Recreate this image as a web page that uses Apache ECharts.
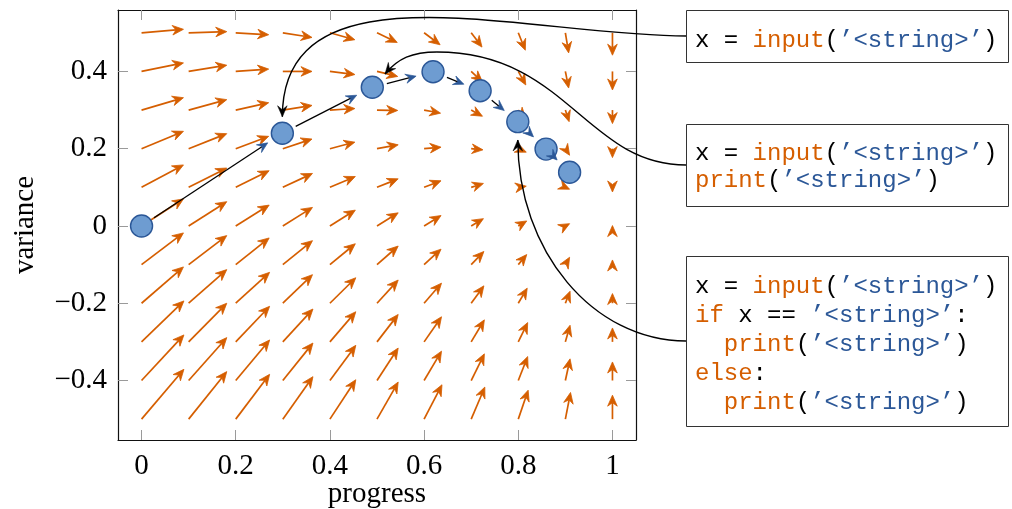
<!DOCTYPE html>
<html><head><meta charset="utf-8">
<script src="https://cdn.jsdelivr.net/npm/echarts@6/dist/echarts.min.js"></script>
<style>html,body{margin:0;padding:0;background:#fff}#c{width:1012px;height:509px}</style>
</head><body><div id="c"></div>
<script>
// ---------------- data ----------------
const gridX = [0, 0.1, 0.2, 0.3, 0.4, 0.5, 0.6, 0.7, 0.8, 0.9, 1];
const gridY = [-0.5, -0.4, -0.3, -0.2, -0.1, 0, 0.1, 0.2, 0.3, 0.4, 0.5];
// arrow x-components (rows follow gridY, columns follow gridX)
const U = [
  [0.090, 0.081, 0.072, 0.064, 0.055, 0.045, 0.038, 0.029, 0.021, 0.011, 0],
  [0.090, 0.081, 0.072, 0.064, 0.055, 0.045, 0.037, 0.028, 0.020, 0.010, 0],
  [0.090, 0.081, 0.072, 0.064, 0.055, 0.045, 0.037, 0.028, 0.020, 0.010, 0],
  [0.089, 0.081, 0.072, 0.063, 0.055, 0.045, 0.037, 0.027, 0.019, 0.010, 0],
  [0.089, 0.081, 0.071, 0.063, 0.054, 0.045, 0.036, 0.027, 0.018, 0.009, 0],
  [0.089, 0.081, 0.071, 0.063, 0.054, 0.045, 0.036, 0.026, 0.018, 0.009, 0],
  [0.089, 0.081, 0.071, 0.063, 0.054, 0.045, 0.036, 0.026, 0.017, 0.009, 0],
  [0.089, 0.081, 0.070, 0.062, 0.053, 0.045, 0.036, 0.025, 0.017, 0.009, 0],
  [0.089, 0.081, 0.070, 0.062, 0.053, 0.044, 0.035, 0.024, 0.016, 0.008, 0],
  [0.089, 0.081, 0.070, 0.062, 0.053, 0.044, 0.035, 0.024, 0.016, 0.007, 0],
  [0.089, 0.081, 0.070, 0.062, 0.053, 0.043, 0.034, 0.023, 0.015, 0.007, 0]
];
// arrow y-components
const V = [
  [0.129, 0.123, 0.116, 0.110, 0.102, 0.096, 0.089, 0.083, 0.075, 0.069, 0.062],
  [0.118, 0.111, 0.105, 0.097, 0.091, 0.084, 0.076, 0.069, 0.062, 0.056, 0.048],
  [0.106, 0.100, 0.092, 0.085, 0.078, 0.071, 0.065, 0.057, 0.050, 0.043, 0.036],
  [0.094, 0.087, 0.080, 0.074, 0.066, 0.060, 0.052, 0.045, 0.039, 0.031, 0.025],
  [0.082, 0.075, 0.069, 0.062, 0.054, 0.048, 0.040, 0.034, 0.026, 0.019, 0.012],
  [0.070, 0.063, 0.054, 0.048, 0.041, 0.034, 0.027, 0.019, 0.013, 0.006, 0.001],
  [0.058, 0.050, 0.043, 0.036, 0.028, 0.022, 0.017, 0.010, 0.003, -0.005, -0.012],
  [0.045, 0.039, 0.032, 0.025, 0.017, 0.010, 0.004, -0.003, -0.009, -0.017, -0.023],
  [0.032, 0.027, 0.019, 0.012, 0.004, -0.001, -0.008, -0.016, -0.022, -0.030, -0.035],
  [0.022, 0.016, 0.006, 0.000, -0.008, -0.013, -0.021, -0.027, -0.035, -0.043, -0.048],
  [0.009, 0.003, -0.005, -0.012, -0.018, -0.025, -0.031, -0.037, -0.045, -0.052, -0.058]
];
const trajX = [0, 0.299, 0.490, 0.619, 0.719, 0.799, 0.859, 0.909];
const trajY = [0, 0.240, 0.359, 0.399, 0.350, 0.270, 0.199, 0.139];
const xTicks = [0, 0.2, 0.4, 0.6, 0.8, 1];
const yTicks = [-0.4, -0.2, 0, 0.2, 0.4];
const xName = 'progress';
const yName = 'variance';
// code snippets: tokens [text, kind]
const snippet1 = [
  [['x = ', 'pl'], ['input', 'kw'], ['(', 'pl'], ['’<string>’', 'str'], [')', 'pl']]
];
const snippet2 = [
  [['x = ', 'pl'], ['input', 'kw'], ['(', 'pl'], ['’<string>’', 'str'], [')', 'pl']],
  [['print', 'kw'], ['(', 'pl'], ['’<string>’', 'str'], [')', 'pl']]
];
const snippet3 = [
  [['x = ', 'pl'], ['input', 'kw'], ['(', 'pl'], ['’<string>’', 'str'], [')', 'pl']],
  [['if', 'kw'], [' x == ', 'pl'], ['’<string>’', 'str'], [':', 'pl']],
  [['  ', 'pl'], ['print', 'kw'], ['(', 'pl'], ['’<string>’', 'str'], [')', 'pl']],
  [['else', 'kw'], [':', 'pl']],
  [['  ', 'pl'], ['print', 'kw'], ['(', 'pl'], ['’<string>’', 'str'], [')', 'pl']]
];
const annotTargets = [1, 2, 5]; // trajectory point each snippet box points to

// ---------------- styling / layout ----------------
const ORANGE = '#D55E00';
const BLUE_FILL = '#6E9CD1';
const BLUE_DARK = '#2B5797';
const SERIF = 'Liberation Serif';
const MONO = 'Liberation Mono';
const FS_MONO = 24;
const boxes = [
  {x: 686, y: 10, w: 322, h: 52, lines: snippet1, first: 30.7, step: 29},
  {x: 686, y: 124, w: 322, h: 82, lines: snippet2, first: 29.3, step: 27.4},
  {x: 686, y: 256, w: 322, h: 170, lines: snippet3, first: 30.7, step: 28.9}
];

function head(tip, ux, uy, L, W, N) {
  const px = -uy, py = ux;
  return [
    [tip[0], tip[1]],
    [tip[0] - L * ux + W * px, tip[1] - L * uy + W * py],
    [tip[0] - N * ux, tip[1] - N * uy],
    [tip[0] - L * ux - W * px, tip[1] - L * uy - W * py]
  ];
}

const quiverData = [];
gridY.forEach((y, i) => gridX.forEach((x, j) => quiverData.push([x, y, U[i][j], V[i][j]])));
const trajPairs = [];
for (let i = 0; i < trajX.length - 1; i++) trajPairs.push([trajX[i], trajY[i], trajX[i + 1], trajY[i + 1]]);
const annotData = annotTargets.map((k, b) => [trajX[k], trajY[k], b]);

function fmt(v) {
  const s = String(Math.abs(Math.round(v * 10) / 10));
  return v < -1e-9 ? '\u2212' + s : s;
}

const tickCommon = {show: true, inside: true, length: 10, lineStyle: {color: '#9a9a9a', width: 1}};
const lineCommon = {show: true, onZero: false, lineStyle: {color: '#111', width: 1.2}};
const labelCommon = {fontFamily: SERIF, fontSize: 29, color: '#000'};

const chart = echarts.init(document.getElementById('c'), null, {renderer: 'canvas'});

const graphics = [];
boxes.forEach(b => {
  graphics.push({type: 'rect', shape: {x: b.x + 0.5, y: b.y + 0.5, width: b.w, height: b.h},
    style: {fill: '#fff', stroke: '#333', lineWidth: 1}, z: 10});
  b.lines.forEach((ln, li) => {
    const text = ln.map(t => '{' + t[1] + '|' + t[0] + '}').join('');
    graphics.push({type: 'text', x: 695, y: b.y + b.first + li * b.step, z: 11,
      style: {text: text, verticalAlign: 'middle', align: 'left',
        font: FS_MONO + 'px "' + MONO + '"',
        rich: {
          pl: {fill: '#000', fontFamily: MONO, fontSize: FS_MONO},
          kw: {fill: ORANGE, fontFamily: MONO, fontSize: FS_MONO},
          str: {fill: BLUE_DARK, fontFamily: MONO, fontSize: FS_MONO}
        }}});
  });
});

const option = {
  animation: false,
  backgroundColor: '#fff',
  grid: {left: 118, top: 10, width: 518, height: 430, containLabel: false, outerBoundsMode: 'none'},
  xAxis: [
    {type: 'value', min: -0.05, max: 1.05, position: 'bottom', splitLine: {show: false},
      axisLine: lineCommon, axisTick: Object.assign({customValues: xTicks}, tickCommon),
      axisLabel: Object.assign({customValues: xTicks, formatter: fmt, margin: 12}, labelCommon),
      name: xName, nameLocation: 'middle', nameGap: 40, nameMoveOverlap: false,
      nameTextStyle: {fontFamily: SERIF, fontSize: 29, color: '#000'}},
    {type: 'value', min: -0.05, max: 1.05, position: 'top', splitLine: {show: false},
      axisLine: lineCommon, axisTick: Object.assign({customValues: xTicks}, tickCommon),
      axisLabel: {show: false}}
  ],
  yAxis: [
    {type: 'value', min: -0.554, max: 0.559, position: 'left', splitLine: {show: false},
      axisLine: lineCommon, axisTick: Object.assign({customValues: yTicks}, tickCommon),
      axisLabel: Object.assign({customValues: yTicks, formatter: fmt, margin: 11}, labelCommon),
      name: yName, nameLocation: 'middle', nameGap: 78, nameRotate: 90, nameMoveOverlap: false,
      nameTextStyle: {fontFamily: SERIF, fontSize: 29, color: '#000'}},
    {type: 'value', min: -0.554, max: 0.559, position: 'right', splitLine: {show: false},
      axisLine: lineCommon, axisTick: Object.assign({customValues: yTicks}, tickCommon),
      axisLabel: {show: false}}
  ],
  series: [
    {
      type: 'custom', name: 'field', z: 2, silent: true, clip: false,
      data: quiverData, encode: {x: 0, y: 1},
      renderItem: function (params, api) {
        const x = api.value(0), y = api.value(1), u = api.value(2), v = api.value(3);
        const p0 = api.coord([x, y]), p1 = api.coord([x + u, y + v]);
        const dx = p1[0] - p0[0], dy = p1[1] - p0[1];
        const len = Math.hypot(dx, dy) || 1e-6;
        const ux = dx / len, uy = dy / len;
        const children = [];
        const N = 7.5;
        if (len > N) children.push({type: 'line',
          shape: {x1: p0[0], y1: p0[1], x2: p1[0] - N * ux, y2: p1[1] - N * uy},
          style: {stroke: ORANGE, lineWidth: 1.7}});
        children.push({type: 'polygon', shape: {points: head(p1, ux, uy, 11, 4.8, 7.5)},
          style: {fill: ORANGE, stroke: ORANGE, lineWidth: 0.8, lineJoin: 'miter'}});
        return {type: 'group', children: children};
      }
    },
    {
      type: 'scatter', name: 'trajectory', z: 3, silent: true,
      data: trajX.map((x, i) => [x, trajY[i]]),
      symbol: 'circle', symbolSize: 22,
      itemStyle: {color: BLUE_FILL, borderColor: BLUE_DARK, borderWidth: 1.4, opacity: 1}
    },
    {
      type: 'custom', name: 'steps', z: 4, silent: true, clip: false,
      data: trajPairs, encode: {x: [0, 2], y: [1, 3]},
      renderItem: function (params, api) {
        const a = api.coord([api.value(0), api.value(1)]);
        const b = api.coord([api.value(2), api.value(3)]);
        const dx = b[0] - a[0], dy = b[1] - a[1];
        const L = Math.hypot(dx, dy), ux = dx / L, uy = dy / L;
        const s = [a[0] + ux * 15, a[1] + uy * 15];
        const t = [b[0] - ux * 17.5, b[1] - uy * 17.5];
        const children = [];
        const N = 6.5;
        const shaft = L - 15 - 17.5 - N;
        if (shaft > 0) children.push({type: 'line',
          shape: {x1: s[0], y1: s[1], x2: t[0] - N * ux, y2: t[1] - N * uy},
          style: {stroke: '#000', lineWidth: 1.3}});
        children.push({type: 'polygon', shape: {points: head(t, ux, uy, 10.5, 4.6, 6.5)},
          style: {fill: BLUE_DARK, stroke: BLUE_DARK, lineWidth: 0.7}});
        return {type: 'group', children: children};
      }
    },
    {
      type: 'custom', name: 'annotations', z: 6, silent: true, clip: false,
      data: annotData, encode: {x: 0, y: 1},
      renderItem: function (params, api) {
        const c = api.coord([api.value(0), api.value(1)]);
        const bi = api.value(2);
        const bx = boxes[bi];
        const P0 = [bx.x, bx.y + bx.h / 2];
        const st = {stroke: '#000', lineWidth: 1.4, fill: 'none'};
        const children = [];
        let tip, ux, uy;
        if (bi === 0) {
          tip = [c[0], c[1] - 16.5];
          children.push({type: 'bezierCurve', shape: {x1: P0[0], y1: P0[1], cpx1: P0[0] - 158, cpy1: P0[1],
            cpx2: tip[0], cpy2: tip[1] - 157, x2: tip[0], y2: tip[1]}, style: st});
          ux = 0; uy = 1;
        } else if (bi === 1) {
          tip = [c[0] + 12.7, c[1] - 13.3];
          const pk = [tip[0] + 52, tip[1] - 22];
          const cp = [tip[0] + 0.64 * 20, tip[1] - 0.77 * 20];
          children.push({type: 'bezierCurve', shape: {x1: P0[0], y1: P0[1], cpx1: P0[0] - 100, cpy1: P0[1],
            cpx2: pk[0] + 130, cpy2: pk[1], x2: pk[0], y2: pk[1]}, style: st});
          children.push({type: 'bezierCurve', shape: {x1: pk[0], y1: pk[1], cpx1: pk[0] - 25, cpy1: pk[1],
            cpx2: cp[0], cpy2: cp[1], x2: tip[0], y2: tip[1]}, style: st});
          const d = Math.hypot(tip[0] - cp[0], tip[1] - cp[1]);
          ux = (tip[0] - cp[0]) / d; uy = (tip[1] - cp[1]) / d;
        } else {
          tip = [c[0], c[1] + 18.3];
          const rx = P0[0] - tip[0], ry = P0[1] - tip[1];
          children.push({type: 'bezierCurve', shape: {x1: P0[0], y1: P0[1], cpx1: P0[0] - 0.5523 * rx, cpy1: P0[1],
            cpx2: tip[0], cpy2: tip[1] + 0.5523 * ry, x2: tip[0], y2: tip[1]}, style: st});
          ux = 0; uy = -1;
        }
        children.push({type: 'polygon', shape: {points: head(tip, ux, uy, 11, 4.8, 7)},
          style: {fill: '#000', stroke: '#000', lineWidth: 0.5}});
        return {type: 'group', children: children};
      }
    }
  ],
  graphic: graphics
};
chart.setOption(option);
</script>
</body></html>
